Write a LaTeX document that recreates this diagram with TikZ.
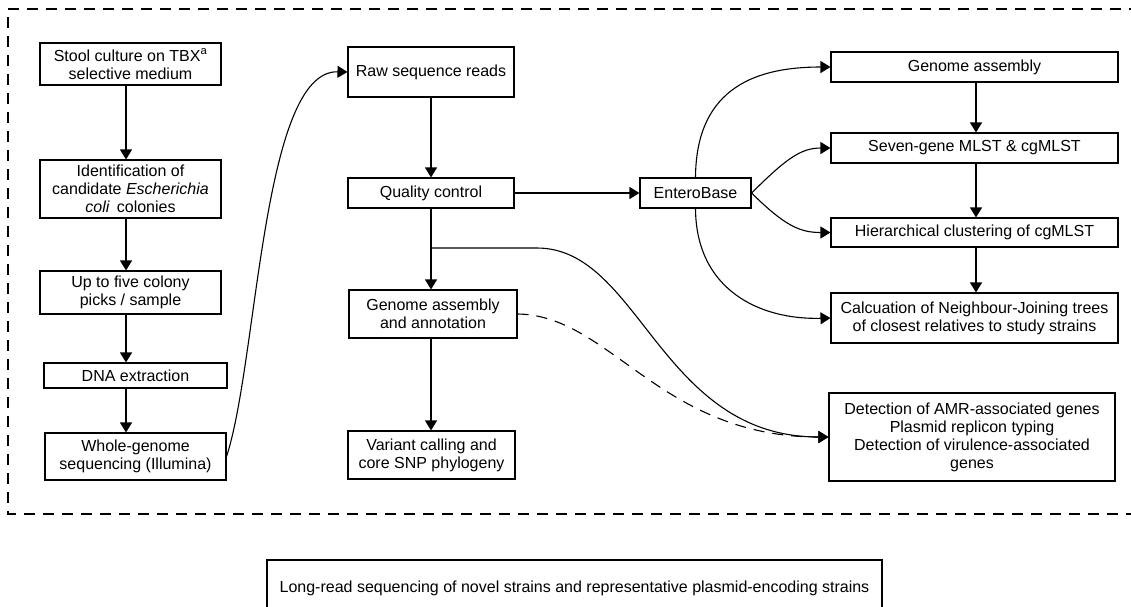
\documentclass[tikz,border=0pt]{standalone}
\usepackage{fontspec}
\setmainfont{Liberation Sans}
\usetikzlibrary{arrows.meta}
\begin{document}
\begin{tikzpicture}[x=1pt,y=-1pt,
  box/.style={draw, line width=1.1pt, inner sep=0pt, align=center, font=\fontsize{16}{18}\selectfont},
  arr/.style={line width=1.1pt, -{Triangle[length=10pt,width=12pt]}},
  frame/.style={line width=1.1pt, dash pattern=on 11pt off 8pt}]
\clip (0,0) rectangle (1131,606);
\fill[white] (0,0) rectangle (1131,606);
\draw[frame] (1140,9) -- (8,9) -- (8,514) -- (1140,514);
% left column
\node[box, minimum width=181pt, minimum height=42pt] (stool) at (130.5,64) {Stool culture on TBX\textsuperscript{a}\\selective medium};
\node[box, minimum width=181pt, minimum height=58pt] (ident) at (130.5,189) {Identification of\\candidate \textit{Escherichia}\\\textit{coli}\, colonies};
\node[box, minimum width=181pt, minimum height=43pt] (upto) at (130.5,292.5) {Up to five colony\\picks / sample};
\node[box, minimum width=183pt, minimum height=25pt] (dna) at (135.5,375.5) {DNA extraction};
\node[box, minimum width=181pt, minimum height=47pt] (wgs) at (135.5,456.5) {Whole-genome\\sequencing (Illumina)};
% middle column
\node[box, minimum width=166pt, minimum height=50pt] (raw) at (431,72) {Raw sequence reads};
\node[box, minimum width=166pt, minimum height=30pt] (qc) at (431,193) {Quality control};
\node[box, minimum width=168pt, minimum height=48pt] (gaa) at (433,314) {Genome assembly\\and annotation};
\node[box, minimum width=167pt, minimum height=48pt] (var) at (431.5,455) {Variant calling and\\core SNP phylogeny};
\node[box, minimum width=111pt, minimum height=30pt] (eb) at (695.5,193) {EnteroBase};
% right column
\node[box, minimum width=287pt, minimum height=30pt] (ga) at (974.5,67) {Genome assembly};
\node[box, minimum width=287pt, minimum height=30pt] (seven) at (974.5,148) {Seven-gene MLST \& cgMLST};
\node[box, minimum width=287pt, minimum height=29pt] (hier) at (974.5,232.5) {Hierarchical clustering of cgMLST};
\node[box, minimum width=287pt, minimum height=50pt] (calc) at (974.5,318) {Calcuation of Neighbour-Joining trees\\of closest relatives to study strains};
\node[box, minimum width=286pt, minimum height=88pt] (det) at (972,437) {Detection of AMR-associated genes\\Plasmid replicon typing\\Detection of virulence-associated\\genes};
% bottom
\node[box, minimum width=615pt, minimum height=60pt] (long) at (574.5,590) {\raisebox{6pt}{Long-read sequencing of novel strains and representative plasmid-encoding strains}};
% coordinates
\coordinate (lx) at (126,0);
\coordinate (mx) at (431,0);
\coordinate (rx) at (976,0);
\coordinate (br) at (431,248);
\coordinate (bre) at (537,248);
% left arrows
\draw[arr] (stool.south -| lx) -- (ident.north -| lx);
\draw[arr] (ident.south -| lx) -- (upto.north -| lx);
\draw[arr] (upto.south -| lx) -- (dna.north -| lx);
\draw[arr] (dna.south -| lx) -- (wgs.north -| lx);
\draw[arr] (wgs.east) .. controls (258,360) and (262,70) .. (raw.west);
% middle arrows
\draw[arr] (raw.south -| mx) -- (qc.north -| mx);
\draw[arr] (qc.south -| mx) -- (gaa.north -| mx);
\draw[arr] (gaa.south -| mx) -- (var.north -| mx);
\draw[arr] (qc.east) -- (eb.west);
\draw[arr] (br) -- (bre) .. controls (640,248) and (660,437) .. (det.west);
\draw[arr, dash pattern=on 11pt off 8pt] (gaa.east) .. controls (610,315) and (660,437) .. (det.west);
% enterobase arrows
\draw[arr] (eb.north) .. controls (696,85) and (760,67) .. (ga.west);
\draw[arr] (eb.south) .. controls (696,290) and (760,320) .. (calc.west);
\draw[arr] (eb.east) .. controls (785,160) and (800,148) .. (seven.west);
\draw[arr] (eb.east) .. controls (785,226) and (800,232.5) .. (hier.west);
% right arrows
\draw[arr] (ga.south -| rx) -- (seven.north -| rx);
\draw[arr] (seven.south -| rx) -- (hier.north -| rx);
\draw[arr] (hier.south -| rx) -- (calc.north -| rx);
\end{tikzpicture}
\end{document}
